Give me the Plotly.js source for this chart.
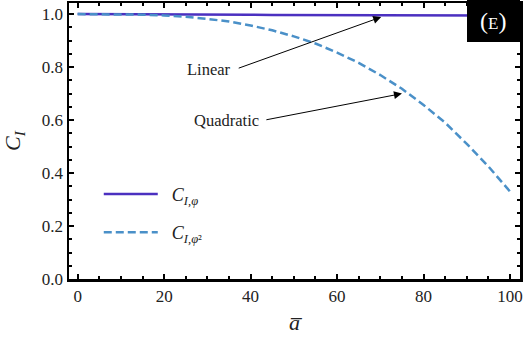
<!DOCTYPE html>
<html>
<head>
<meta charset="utf-8">
<script src="https://cdn.plot.ly/plotly-3.0.1.min.js"></script>
<style>
  html, body { margin: 0; padding: 0; background: #fff; }
  #chart { width: 529px; height: 346px; }
</style>
</head>
<body>
<div id="chart"></div>
<script>
// values
const aBar = [0, 5, 10, 15, 20, 25, 30, 35, 40, 45, 50, 55, 60, 65, 70, 75, 80, 85, 90, 95, 100];
const cLinear = [1.000, 1.000, 1.000, 0.999, 0.999, 0.999, 0.998, 0.998, 0.998, 0.997, 0.997,
                 0.997, 0.997, 0.996, 0.996, 0.996, 0.996, 0.995, 0.995, 0.995, 0.994];
const cQuad = [1.000, 1.000, 0.999, 0.998, 0.995, 0.990, 0.982, 0.972, 0.957, 0.939, 0.916,
               0.889, 0.855, 0.816, 0.770, 0.718, 0.657, 0.590, 0.510, 0.425, 0.330];

const serif = "Liberation Serif";

const linear = {
  x: aBar,
  y: cLinear,
  mode: "lines",
  name: "&nbsp;&nbsp;<i>C</i><sub><i>I</i>,<i>φ</i></sub>",
  legend: "legend",
  line: { color: "#4b30c0", width: 2.5 },
};

const quad = {
  x: aBar,
  y: cQuad,
  mode: "lines",
  name: "&nbsp;&nbsp;<i>C</i><sub><i>I</i>,<i>φ</i>²</sub>",
  legend: "legend2",
  line: { color: "#4a90c8", width: 2.5, dash: "8px,4px" },
};

const axisStyle = {
  showline: true,
  linecolor: "black",
  linewidth: 2.5,
  mirror: "ticks",
  ticks: "inside",
  ticklen: 5,
  tickwidth: 2,
  tickcolor: "black",
  showgrid: false,
  zeroline: false,
  tickfont: { family: serif, size: 17, color: "#222" },
};

const legendStyle = {
  xanchor: "left",
  yanchor: "middle",
  bgcolor: "rgba(0,0,0,0)",
  itemwidth: 54,
  font: { family: serif, size: 18, color: "#222" },
};

const layout = {
  width: 529,
  height: 346,
  margin: { l: 69, r: 9, t: 3, b: 67 },
  paper_bgcolor: "white",
  plot_bgcolor: "white",
  font: { family: serif, color: "#222" },
  xaxis: Object.assign({}, axisStyle, {
    range: [-2, 102.3],
    tickvals: [0, 20, 40, 60, 80, 100],
    minor: { dtick: 5, ticks: "inside", ticklen: 3, tickwidth: 2, tickcolor: "black" },
    title: { text: "<i>a̅</i>", font: { family: serif, size: 22 }, standoff: 10 },
  }),
  yaxis: Object.assign({}, axisStyle, {
    range: [0, 1.042],
    tickvals: [0, 0.2, 0.4, 0.6, 0.8, 1.0],
    ticktext: ["0.0", "0.2", "0.4", "0.6", "0.8", "1.0"],
    minor: { dtick: 0.05, ticks: "inside", ticklen: 3, tickwidth: 2, tickcolor: "black" },
    title: { text: "<i>C</i><sub><i>I</i></sub>", font: { family: serif, size: 22 }, standoff: 16 },
  }),
  showlegend: true,
  legend: Object.assign({}, legendStyle, { x: 0.066, y: 0.307 }),
  legend2: Object.assign({}, legendStyle, { x: 0.066, y: 0.168 }),
  shapes: [
    {
      type: "rect", xref: "paper", yref: "paper",
      x0: 0.8825, x1: 1.0, y0: 0.859, y1: 1.011,
      fillcolor: "black", line: { width: 0 },
    },
  ],
  annotations: [
    { xref: "paper", yref: "paper", x: 0.941, y: 0.935, xanchor: "center", yanchor: "middle",
      text: "(<span style='font-size:17px'>E</span>)", showarrow: false,
      font: { family: serif, size: 24, color: "white" } },
    // arrows
    { x: 70.2, y: 0.989, ax: 36.9, ay: 0.794, xref: "x", yref: "y", axref: "x", ayref: "y",
      text: "", showarrow: true, arrowhead: 2, arrowsize: 1.6, arrowwidth: 1, arrowcolor: "black" },
    { x: 75, y: 0.700, ax: 43.3, ay: 0.600, xref: "x", yref: "y", axref: "x", ayref: "y",
      text: "", showarrow: true, arrowhead: 2, arrowsize: 1.6, arrowwidth: 1, arrowcolor: "black" },
    // labels
    { x: 35.9, y: 0.792, xref: "x", yref: "y", xanchor: "right", text: "Linear", showarrow: false,
      font: { family: serif, size: 16.5, color: "#222" } },
    { x: 42.4, y: 0.598, xref: "x", yref: "y", xanchor: "right", text: "Quadratic", showarrow: false,
      font: { family: serif, size: 16.5, color: "#222" } },
  ],
};

Plotly.newPlot("chart", [linear, quad], layout, { displayModeBar: false, staticPlot: true });
</script>
</body>
</html>
